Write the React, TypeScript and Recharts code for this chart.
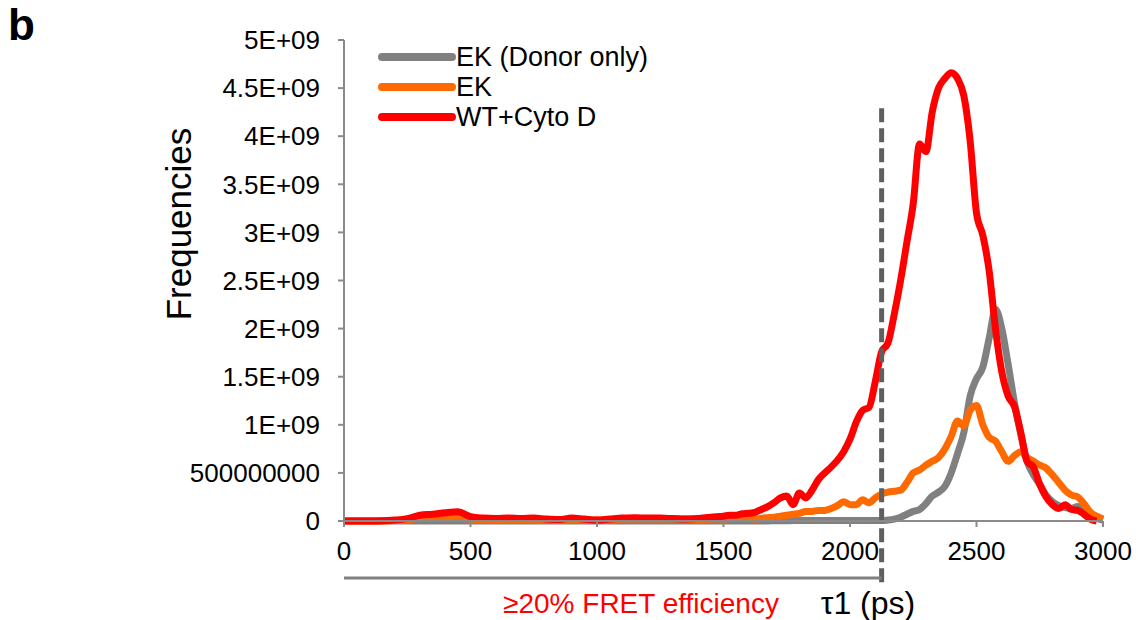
import React from 'react';
import { LineChart, Line, XAxis, YAxis, ReferenceLine, Legend } from 'recharts';

// tau1 grid (ps)
const tau = [
  0, 50, 100, 150, 200, 250, 300, 350, 400, 450, 500, 550, 600, 650, 700,
  750, 800, 850, 900, 950, 1000, 1050, 1100, 1150, 1200, 1250, 1300, 1350, 1400, 1450,
  1500, 1525, 1550, 1575, 1600, 1625, 1650, 1675, 1700, 1725,
  1750, 1775, 1800, 1825, 1850, 1875, 1900, 1925, 1950, 1975,
  2000, 2025, 2050, 2075, 2100, 2125, 2150, 2175, 2200, 2225,
  2250, 2275, 2300, 2325, 2350, 2375, 2400, 2425, 2450, 2475,
  2500, 2525, 2550, 2575, 2600, 2625, 2650, 2675, 2700, 2725,
  2750, 2775, 2800, 2825, 2850, 2875, 2900, 2925, 2950, 2975,
  3000,
];

// frequencies in units of 1E+09
const donorOnly = [
  0, 0, 0, 0, 0, 0, 0, 0, 0, 0, 0, 0, 0, 0, 0,
  0, 0, 0, 0, 0, 0, 0, 0, 0, 0, 0, 0, 0, 0, 0,
  0, 0, 0, 0, 0, 0, 0, 0, 0.003, 0.003,
  0.003, 0.004, 0.004, 0.004, 0.004, 0.004, 0.004, 0.004, 0.004, 0.004,
  0.004, 0.004, 0.004, 0.004, 0.004, 0.004, 0.01, 0.02, 0.04, 0.07,
  0.1, 0.12, 0.18, 0.26, 0.3, 0.36, 0.5, 0.7, 0.92, 1.3,
  1.48, 1.6, 1.9, 2.2, 2.0, 1.63, 1.23, 0.9, 0.62, 0.48,
  0.38, 0.27, 0.2, 0.16, 0.14, 0.13, 0.15, 0.12, 0.06, 0.03,
  0.01,
];

const ek = [
  0, 0, 0, 0, 0.005, 0.01, 0.03, 0.03, 0.04, 0.03, 0.02, 0.01, 0.01, 0.01, 0.01,
  0.01, 0.01, 0.01, 0.01, 0.01, 0.01, 0.01, 0.02, 0.02, 0.02, 0.02, 0.02, 0.02, 0.01, 0.02,
  0.02, 0.025, 0.03, 0.04, 0.03, 0.02, 0.03, 0.035, 0.04, 0.05,
  0.06, 0.07, 0.08, 0.1, 0.1, 0.11, 0.11, 0.13, 0.16, 0.2,
  0.17, 0.17, 0.22, 0.19, 0.24, 0.28, 0.3, 0.31, 0.32, 0.4,
  0.5, 0.53, 0.58, 0.62, 0.66, 0.75, 0.88, 1.04, 0.99, 1.15,
  1.2, 1.0, 0.87, 0.83, 0.72, 0.62, 0.68, 0.72, 0.66, 0.62,
  0.58, 0.55, 0.48, 0.4, 0.32, 0.27, 0.25, 0.18, 0.09, 0.05,
  0.02,
];

const wtCytoD = [
  0, 0, 0, 0.002, 0.01, 0.025, 0.06, 0.07, 0.085, 0.095, 0.045, 0.03, 0.025, 0.03, 0.025,
  0.03, 0.02, 0.015, 0.03, 0.02, 0.01, 0.02, 0.03, 0.035, 0.03, 0.03, 0.025, 0.02, 0.025, 0.04,
  0.05, 0.06, 0.06, 0.075, 0.08, 0.09, 0.12, 0.15, 0.19, 0.24,
  0.26, 0.17, 0.29, 0.24, 0.32, 0.43, 0.5, 0.56, 0.63, 0.72,
  0.85, 1.03, 1.15, 1.18, 1.45, 1.76, 1.85, 2.15, 2.5, 2.9,
  3.3, 3.92, 3.84, 4.25, 4.5, 4.6, 4.66, 4.6, 4.42, 3.95,
  3.2, 2.97, 2.6, 2.0, 1.55, 1.3, 1.19, 0.92, 0.62, 0.56,
  0.38, 0.25, 0.17, 0.13, 0.17, 0.12, 0.11, 0.07, 0.02, 0,
  null,
];

const seriesNames = ['EK (Donor only)', 'EK', 'WT+Cyto D'];
const xTicks = [0, 500, 1000, 1500, 2000, 2500, 3000];
const yTicks = [0, 0.5, 1, 1.5, 2, 2.5, 3, 3.5, 4, 4.5, 5];
const yTickLabels = ['0', '500000000', '1E+09', '1.5E+09', '2E+09', '2.5E+09', '3E+09', '3.5E+09', '4E+09', '4.5E+09', '5E+09'];
const fretCutoff = 2125;

const data = tau.map((t, i) => ({
  tau: t,
  donor: donorOnly[i],
  ek: ek[i],
  wt: wtCytoD[i],
}));

const font = '"Liberation Sans", Arial, sans-serif';

const renderLegend = (props: any) => {
  const items = [...(props.payload || [])].sort(
    (a: any, b: any) => seriesNames.indexOf(a.value) - seriesNames.indexOf(b.value)
  );
  return (
    <div style={{ fontFamily: font }}>
      {items.map((p: any) => (
        <div key={p.value} style={{ display: 'flex', alignItems: 'center', height: 30 }}>
          <svg width={78} height={12}>
            <line x1={4} y1={6} x2={74} y2={6} stroke={p.color} strokeWidth={8} strokeLinecap="round" />
          </svg>
          <span style={{ fontSize: 27, color: '#000', lineHeight: 1, whiteSpace: 'nowrap' }}>{p.value}</span>
        </div>
      ))}
    </div>
  );
};

export default function App() {
  return (
    <div style={{ position: 'absolute', left: 0, top: 0, width: 1138, height: 620, background: '#fff' }}>
      <LineChart width={1138} height={620} data={data} margin={{ top: 40, right: 35, left: 194, bottom: 59 }}>
        <XAxis
          dataKey="tau"
          type="number"
          domain={[0, 3000]}
          ticks={xTicks}
          height={40}
          stroke="#8a8a8a"
          strokeWidth={2}
          tickSize={6}
          tickMargin={15}
          tick={{ fill: '#000', fontSize: 26, fontFamily: font }}
        />
        <YAxis
          type="number"
          domain={[0, 5]}
          ticks={yTicks}
          width={150}
          stroke="#8a8a8a"
          strokeWidth={2}
          tickSize={6}
          tickMargin={18}
          tickFormatter={(v: number) => yTickLabels[yTicks.indexOf(v)]}
          tick={{ fill: '#000', fontSize: 26, fontFamily: font }}
        />
        <Legend
          content={renderLegend}
          layout="vertical"
          verticalAlign="middle"
          align="center"
          wrapperStyle={{ left: 378, top: 42, width: 'auto' }}
        />
        <Line type="monotone" dataKey="donor" name={seriesNames[0]} stroke="#808080" strokeWidth={7} dot={false} isAnimationActive={false} strokeLinejoin="round" />
        <Line type="monotone" dataKey="ek" name={seriesNames[1]} stroke="#ff6a00" strokeWidth={7} dot={false} isAnimationActive={false} strokeLinejoin="round" />
        <Line type="monotone" dataKey="wt" name={seriesNames[2]} stroke="#ff0000" strokeWidth={7} dot={false} isAnimationActive={false} strokeLinejoin="round" />
        <ReferenceLine
          segment={[{ x: fretCutoff, y: 4.29 }, { x: fretCutoff, y: -0.67 }]}
          ifOverflow="visible"
          stroke="#5f5f5f"
          strokeWidth={5}
          strokeDasharray="14 6"
        />
        <ReferenceLine
          segment={[{ x: 0, y: -0.593 }, { x: fretCutoff, y: -0.593 }]}
          ifOverflow="visible"
          stroke="#808080"
          strokeWidth={3}
        />
      </LineChart>
      <svg width={1138} height={620} style={{ position: 'absolute', left: 0, top: 0, pointerEvents: 'none' }}>
        <text x={8} y={40} fontSize={44} fontWeight="bold" fontFamily={font}>b</text>
        <text x={191} y={224} transform="rotate(-90 191 224)" textAnchor="middle" fontSize={35} fontFamily={font}>Frequencies</text>
        <text x={641} y={613} textAnchor="middle" fontSize={28} fill="#ff0000" fontFamily={font}>≥20% FRET efficiency</text>
        <text x={868} y={614} textAnchor="middle" fontSize={32} fontFamily={font}>τ1 (ps)</text>
      </svg>
    </div>
  );
}
